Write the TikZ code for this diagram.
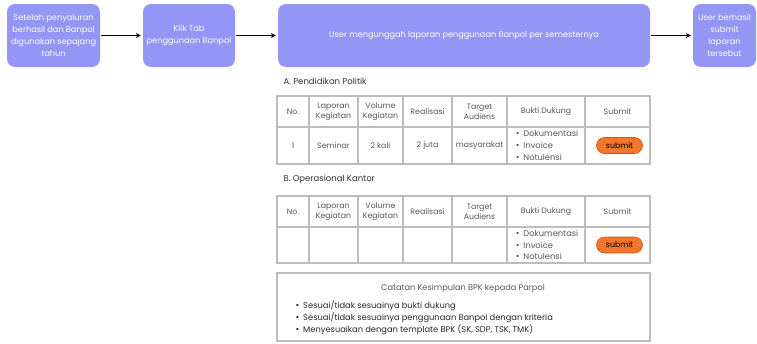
\documentclass[tikz,border=0pt]{standalone}
\usepackage{fontspec}
\setmainfont{Poppins}
\usetikzlibrary{positioning, arrows.meta}

\definecolor{lavender}{HTML}{9396F4}
\definecolor{tblgray}{HTML}{BDBDBD}
\definecolor{txtgray}{HTML}{555555}
\definecolor{btnorange}{HTML}{F2762B}
\definecolor{btnedge}{HTML}{C9581A}

% list of supporting documents
\newcommand{\titik}{{\small\textbullet}\hspace{4pt}}
\newcommand{\daftarbukti}{\titik Dokumentasi\\\titik Invoice\\\titik Notulensi}

\begin{document}
\begin{tikzpicture}[
		x=1pt, y=-1pt,
		% Style for the flow boxes on top
		stepbox/.style={fill=lavender, rounded corners=8pt, text=white, align=center,
			minimum height=63, inner sep=2pt, font=\fontsize{8.2}{12.2}\selectfont},
		flow/.style={-{Stealth[length=5pt, width=5pt]}, line width=1.2pt, shorten >=2pt, shorten <=1pt},
		% Style for the table cells
		sel/.style={draw=tblgray, line width=1.4pt, inner sep=1pt, align=center,
			text=txtgray, font=\fontsize{7.8}{10}\selectfont},
		bukti/.style={align=left, text=txtgray, font=\fontsize{8.3}{11.8}\selectfont},
		submitbtn/.style={fill=btnorange, draw=btnedge, line width=0.6pt, rounded corners=8pt,
			minimum width=46, minimum height=16, inner sep=0pt, font=\fontsize{7.8}{9}\selectfont},
		% Title & Text
		section label/.style={anchor=west, text=black!80, font=\fontsize{8.5}{10}\selectfont},
		notebox/.style={draw=tblgray, line width=1.4pt, minimum width=373, minimum height=68}
		]
		\useasboundingbox (0,0) rectangle (757,343);
		
		% ==============================================================================
		% TOP: flow of steps
		% ==============================================================================
		\node[stepbox, minimum width=93] (salur) at (53.5,35.5) {Setelah penyaluran\\berhasil dan Banpol\\digunakan sepajang\\tahun};
		\node[stepbox, minimum width=92] (klik) at (189,35.5) {Klik Tab\\penggunaan Banpol};
		\node[stepbox, minimum width=372] (unggah) at (464,35.5) {User mengunggah laporan penggunaan Banpol per semesternya};
		\node[stepbox, minimum width=63] (berhasil) at (724.5,35.5) {User berhasil\\submit\\laporan\\tersebut};
		
		\draw[flow] (salur) -- (klik);
		\draw[flow] (klik) -- (unggah);
		\draw[flow] (unggah) -- (berhasil);
		
		% ==============================================================================
		% A: Pendidikan Politik
		% ==============================================================================
		\node[section label] (judulA) at (280,81) {A. Pendidikan Politik};
		\foreach \c/\xa/\xb/\kepala in {1/277/309/No., 2/309/358/{Laporan\\Kegiatan}, 3/358/403/{Volume\\Kegiatan},
				4/403/452/Realisasi, 5/452/507/{Target\\Audiens}, 6/507/585/Bukti Dukung, 7/585/650/Submit}
			\node[sel, minimum width=\xb-\xa, minimum height=31] (tblA-1-\c) at ({(\xa+\xb)/2},111.5) {\kepala};
		\foreach \c/\xa/\xb/\isi in {1/277/309/1, 2/309/358/Seminar, 3/358/403/2 kali, 4/403/452/2 juta,
				5/452/507/masyarakat, 6/507/585/{}, 7/585/650/{}}
			\node[sel, minimum width=\xb-\xa, minimum height=37] (tblA-2-\c) at ({(\xa+\xb)/2},145.5) {\isi};
		\node[bukti] (buktiA) at ([xshift=1]tblA-2-6) {\daftarbukti};
		\node[submitbtn] (btnA) at ([xshift=2]tblA-2-7) {submit};
		
		% ==============================================================================
		% B: Operasional Kantor
		% ==============================================================================
		\node[section label] (judulB) at (280,179) {B. Operasional Kantor};
		\foreach \c/\xa/\xb/\kepala in {1/277/309/No., 2/309/358/{Laporan\\Kegiatan}, 3/358/403/{Volume\\Kegiatan},
				4/403/452/Realisasi, 5/452/507/{Target\\Audiens}, 6/507/585/Bukti Dukung, 7/585/650/Submit}
			\node[sel, minimum width=\xb-\xa, minimum height=31] (tblB-1-\c) at ({(\xa+\xb)/2},211.5) {\kepala};
		\foreach \c/\xa/\xb in {1/277/309, 2/309/358, 3/358/403, 4/403/452, 5/452/507, 6/507/585, 7/585/650}
			\node[sel, minimum width=\xb-\xa, minimum height=36] (tblB-2-\c) at ({(\xa+\xb)/2},245) {};
		\node[bukti] (buktiB) at ([xshift=1]tblB-2-6) {\daftarbukti};
		\node[submitbtn] (btnB) at ([xshift=2]tblB-2-7) {submit};
		
		% ==============================================================================
		% Catatan
		% ==============================================================================
		\node[notebox] (catatan) at (463.5,307) {};
		\node[text=txtgray, font=\fontsize{8.2}{10}\selectfont] (catatanJudul) at (463,288) {Catatan Kesimpulan BPK kepada Parpol};
		\node[anchor=west, align=left, text=black!85, font=\fontsize{8.3}{11.8}\selectfont] (catatanIsi) at (292,318)
			{\titik Sesuai/tidak sesuainya bukti dukung\\
			 \titik Sesuai/tidak sesuainya penggunaan Banpol dengan kriteria\\
			 \titik Menyesuaikan dengan template BPK (SK, SDP, TSK, TMK)};
	\end{tikzpicture}
\end{document}
